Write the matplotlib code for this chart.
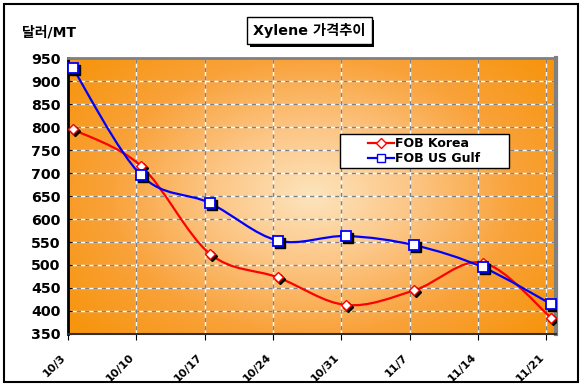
import matplotlib
matplotlib.use("Agg")
import matplotlib.pyplot as plt
import matplotlib.transforms as mtransforms
import matplotlib.patheffects as pe
from matplotlib.path import Path
from matplotlib.patches import PathPatch, Rectangle
from matplotlib.colors import LinearSegmentedColormap
import numpy as np

# data
dates = ['10/3', '10/10', '10/17', '10/24', '10/31', '11/7', '11/14', '11/21']
fob_korea = [795, 715, 525, 473, 413, 445, 505, 385]
fob_usgulf = [928, 695, 635, 553, 563, 543, 495, 415]

kfont = ['DejaVu Sans', 'Noto Sans CJK KR']

fig = plt.figure(figsize=(5.87, 3.87), dpi=100)
ax = fig.add_axes([0.1158, 0.137, 0.8314, 0.713])

# day offsets: weekly ticks, points sit in the middle of their day
tick_x = np.arange(len(dates)) * 7
pt_x = tick_x + 0.5
ax.set_xlim(0, 50)
ax.set_ylim(350, 950)

# orange radial background
cmap = LinearSegmentedColormap.from_list('bg', ['#fde4bc', '#fcc584', '#f9a23a', '#f7950f'])
gx, gy = np.meshgrid(np.linspace(0, 1, 300), np.linspace(0, 1, 200))
r = np.sqrt(((gx - 0.5) / 0.62) ** 2 + ((gy - 0.5) / 0.75) ** 2)
ax.imshow(np.clip(r, 0, 1), cmap=cmap, extent=[0, 1, 0, 1], transform=ax.transAxes,
          aspect='auto', origin='lower', zorder=0, interpolation='bilinear')

# grid: white line under gray dashes
for yv in range(400, 951, 50):
    ax.axhline(yv, color='white', lw=1, zorder=1)
    ax.axhline(yv, color='#808080', lw=1, ls=(0, (3, 3)), zorder=1)
for xv in tick_x[1:]:
    ax.axvline(xv, color='white', lw=1, zorder=1)
    ax.axvline(xv, color='#808080', lw=1, ls=(3, (3, 3)), zorder=1)


def smooth_path(xs, ys):
    pts = np.column_stack([xs, ys]).astype(float)
    verts = [pts[0]]
    codes = [Path.MOVETO]
    n = len(pts)
    for i in range(n - 1):
        p0 = pts[max(i - 1, 0)]
        p1 = pts[i]
        p2 = pts[i + 1]
        p3 = pts[min(i + 2, n - 1)]
        verts += [p1 + (p2 - p0) / 6, p2 - (p3 - p1) / 6, p2]
        codes += [Path.CURVE4] * 3
    return Path(verts, codes)


ax.add_patch(PathPatch(smooth_path(pt_x, fob_korea), fc='none', ec='#ff0000', lw=1.6, zorder=3))
ax.add_patch(PathPatch(smooth_path(pt_x, fob_usgulf), fc='none', ec='#0000ff', lw=1.6, zorder=3))

shadow = mtransforms.offset_copy(ax.transData, fig=fig, x=2, y=-2, units='dots')
ax.plot(pt_x, fob_korea, ls='none', marker='D', ms=5.5, mfc='black', mec='black', transform=shadow, zorder=4)
ax.plot(pt_x, fob_usgulf, ls='none', marker='s', ms=6.5, mfc='black', mec='black', transform=shadow, zorder=4)
ax.plot(pt_x, fob_korea, ls='none', marker='D', ms=5.5, mfc='white', mec='#ff0000', mew=1, zorder=5)
ax.plot(pt_x, fob_usgulf, ls='none', marker='s', ms=6.5, mfc='white', mec='#0000ff', mew=1.3, zorder=5)

# legend box drawn separately so it can be wider than its content
ax.add_patch(Rectangle((0.557, 0.601), 0.347, 0.124, transform=ax.transAxes,
                       fc='white', ec='black', lw=1, zorder=6))
hk, = ax.plot([], [], color='#ff0000', lw=1.6, marker='D', ms=5.5, mfc='white', mec='#ff0000', label='FOB Korea')
hu, = ax.plot([], [], color='#0000ff', lw=1.6, marker='s', ms=6, mfc='white', mec='#0000ff', label='FOB US Gulf')
leg = ax.legend(handles=[hk, hu], loc='center left', bbox_to_anchor=(0.615, 0.663),
                frameon=False, handlelength=2.1, handletextpad=0.05, borderpad=0,
                labelspacing=0.15, borderaxespad=0,
                prop={'family': 'DejaVu Sans', 'size': 9, 'weight': 'bold'})
leg.set_zorder(7)

ax.set_xticks(tick_x)
ax.set_xticklabels(dates, rotation=45, ha='right', va='top', rotation_mode='default',
                   fontsize=8, fontweight='bold', family='DejaVu Sans')
ax.set_yticks(range(350, 951, 50))
ax.set_yticklabels([str(v) for v in range(350, 951, 50)], fontsize=10.2,
                   fontweight='bold', family='DejaVu Sans')
ax.tick_params(axis='y', direction='in', length=3, pad=5.5, color='black')
ax.tick_params(axis='x', direction='out', length=4, pad=9, color='black')

ax.spines['left'].set_linewidth(2)
ax.spines['left'].set_color('black')
ax.spines['bottom'].set_linewidth(1.5)
ax.spines['bottom'].set_color('#303030')
ax.spines['top'].set_color('#808080')
ax.spines['top'].set_linewidth(2)
ax.spines['right'].set_color('#808080')
ax.spines['right'].set_linewidth(3)

# chart title in a shadowed box
t = fig.text(0.527, 0.92, 'Xylene 가격추이', ha='center', va='center', fontsize=10.3,
             fontweight='bold', family=kfont,
             bbox=dict(boxstyle='square,pad=0.42', fc='white', ec='black', lw=1))
t.get_bbox_patch().set_path_effects([pe.withSimplePatchShadow(offset=(2, -2), shadow_rgbFace='black', alpha=1)])

fig.text(0.037, 0.917, '달러/MT', ha='left', va='center', fontsize=10,
         fontweight='bold', family=kfont)

# outer frame
fig.patches.append(Rectangle((0.0068, 0.0129), 0.978, 0.977, transform=fig.transFigure,
                             fill=False, ec='black', lw=1.5))

fig.savefig('out.png', dpi=100)
